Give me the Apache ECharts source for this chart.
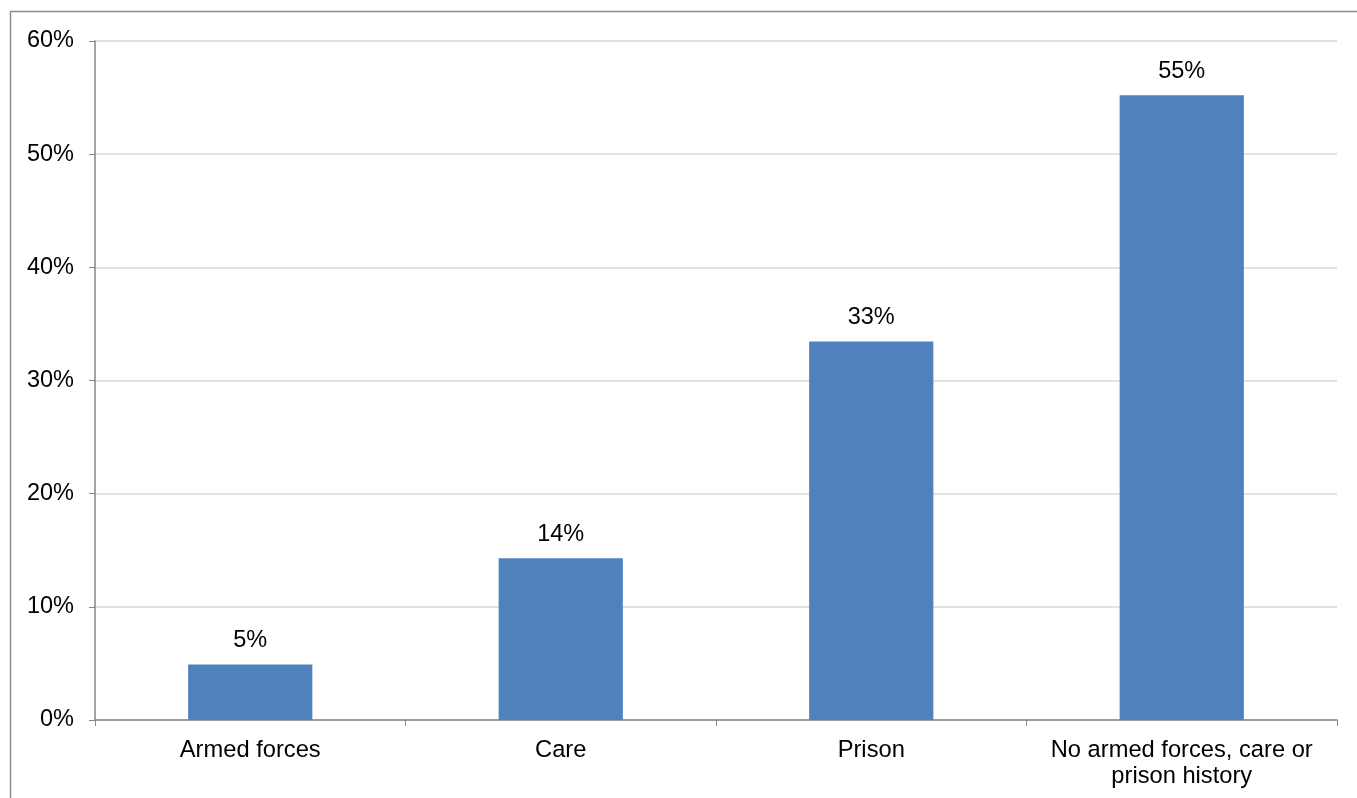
<!DOCTYPE html>
<html><head><meta charset="utf-8">
<script src="https://cdn.jsdelivr.net/npm/echarts@6/dist/echarts.min.js"></script>
<style>html,body{margin:0;padding:0;background:#fff}#c{width:1357px;height:798px}</style>
</head><body><div id="c"></div>
<script>
const categories = ['Armed forces', 'Care', 'Prison', 'No armed forces, care or\nprison history'];
const values = [4.9, 14.3, 33.45, 55.2];
const yTicks = [0, 10, 20, 30, 40, 50, 60];

const chart = echarts.init(document.getElementById('c'), null, {renderer: 'canvas'});
const font = 'Liberation Sans, Arial, sans-serif';
chart.setOption({
  animation: false,
  backgroundColor: '#fff',
  graphic: [{
    type: 'rect', left: 8, top: 9, shape: {width: 1400, height: 850},
    style: {fill: 'none', stroke: '#8c8c8c', lineWidth: 1.5}, silent: true
  }],
  grid: {left: 95, top: 41, right: 20, bottom: 78, containLabel: false},
  xAxis: {
    type: 'category', data: categories,
    axisLine: {lineStyle: {color: '#868686', width: 1.5}},
    axisTick: {show: true, length: 6, alignWithLabel: false, lineStyle: {color: '#868686'}},
    axisLabel: {color: '#000', fontSize: 23.7, fontFamily: font, margin: 17, lineHeight: 26, interval: 0}
  },
  yAxis: {
    type: 'value', min: yTicks[0], max: yTicks[yTicks.length - 1], interval: 10,
    axisLine: {show: true, lineStyle: {color: '#868686', width: 1.5}},
    axisTick: {show: true, length: 6, lineStyle: {color: '#868686'}},
    splitLine: {lineStyle: {color: '#d9d9d9', width: 1.5}},
    axisLabel: {color: '#000', fontSize: 23.5, fontFamily: font, margin: 21, formatter: v => v + '%'}
  },
  series: [{
    type: 'bar', data: values, barWidth: '40%',
    itemStyle: {color: '#4f81bd'},
    label: {show: true, position: 'top', distance: 12, color: '#000', fontSize: 23.5, fontFamily: font,
      formatter: p => Math.round(p.value) + '%'}
  }]
});
</script></body></html>
